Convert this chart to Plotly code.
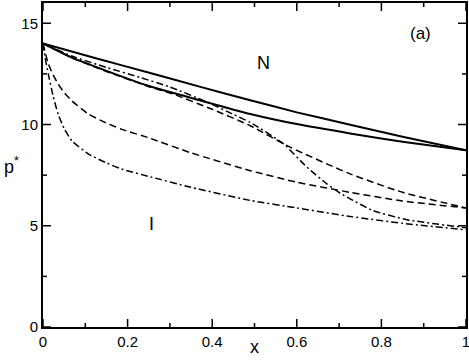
import plotly.graph_objects as go

# Upper solid curve
x_solid_up = [0, 0.125, 0.249, 0.37, 0.49, 0.6, 0.726, 0.85, 1.0]
p_solid_up = [14.0, 13.27, 12.57, 11.87, 11.2, 10.6, 9.99, 9.4, 8.73]

# Lower solid curve
x_solid_lo = [0, 0.068, 0.15, 0.249, 0.37, 0.49, 0.6, 0.726, 0.85, 1.0]
p_solid_lo = [14.0, 13.3, 12.65, 11.91, 11.2, 10.52, 10.02, 9.56, 9.15, 8.73]

# Upper dashed curve
x_dash_up = [0, 0.068, 0.15, 0.249, 0.308, 0.4, 0.49, 0.585, 0.726, 0.85, 1.0]
p_dash_up = [14.0, 13.3, 12.62, 11.88, 11.5, 10.75, 9.94, 8.87, 7.56, 6.65, 5.88]

# Lower dashed curve
x_dash_lo = [0, 0.0125, 0.024, 0.036, 0.05, 0.068, 0.107, 0.147, 0.186, 0.249, 0.35, 0.49, 0.6, 0.726, 0.85, 1.0]
p_dash_lo = [14.0, 13.0, 12.45, 12.0, 11.58, 11.17, 10.52, 10.1, 9.76, 9.35, 8.6, 7.72, 7.15, 6.65, 6.22, 5.88]

# Upper dash-dot curve
x_dd_up = [0, 0.068, 0.15, 0.23, 0.3, 0.387, 0.45, 0.49, 0.569, 0.624, 0.671, 0.703, 0.726, 0.78, 0.86, 1.0]
p_dd_up = [14.0, 13.38, 12.82, 12.32, 11.85, 11.12, 10.5, 10.1, 9.04, 7.89, 7.07, 6.6, 6.33, 5.75, 5.3, 4.9]

# Lower dash-dot curve
x_dd_lo = [0, 0.005, 0.0125, 0.024, 0.036, 0.05, 0.068, 0.107, 0.147, 0.186, 0.249, 0.35, 0.49, 0.6, 0.726, 0.85, 1.0]
p_dd_lo = [14.0, 13.3, 12.5, 11.4, 10.5, 9.8, 9.2, 8.55, 8.13, 7.8, 7.44, 6.9, 6.25, 5.88, 5.46, 5.12, 4.8]

x_ticks = [0, 0.2, 0.4, 0.6, 0.8, 1]
x_ticklabels = ["0", "0.2", "0.4", "0.6", "0.8", "1"]
x_minor_ticks = [0.1, 0.3, 0.5, 0.7, 0.9]
y_ticks = [0, 5, 10, 15]
y_ticklabels = ["0", "5", "10", "15"]
y_minor_ticks = [2.5, 7.5, 12.5]

DASH = "7px,4px"
DASHDOT = "7px,3px,2px,3px"

series = [
    (x_solid_up, p_solid_up, "solid", 2),
    (x_solid_lo, p_solid_lo, "solid", 2),
    (x_dash_up, p_dash_up, DASH, 1.5),
    (x_dash_lo, p_dash_lo, DASH, 1.5),
    (x_dd_up, p_dd_up, DASHDOT, 1.5),
    (x_dd_lo, p_dd_lo, DASHDOT, 1.5),
]

fig = go.Figure()
for xs, ps, dash, w in series:
    fig.add_trace(go.Scatter(x=xs, y=ps, mode="lines",
                             line=dict(color="black", width=w, dash=dash, shape="spline", smoothing=0.5),
                             showlegend=False, hoverinfo="skip"))

font_family = "Liberation Sans, Arial, Helvetica, sans-serif"

axis_common = dict(showline=True, linecolor="black", linewidth=2, mirror=True,
                   ticks="", showgrid=False, zeroline=False, automargin=False,
                   ticklabeloverflow="allow", layer="above traces",
                   tickfont=dict(family=font_family, size=15, color="black"))

fig.update_xaxes(range=[0, 1], tickmode="array", tickvals=x_ticks, ticktext=x_ticklabels,
                 **axis_common)
fig.update_yaxes(range=[0, 16], tickmode="array", tickvals=y_ticks, ticktext=y_ticklabels,
                 **axis_common)

# inside tick marks on all four sides, placed through the axes' own scales
tick_line = dict(color="black", width=1.5)
for vals, length in ((x_ticks, 8), (x_minor_ticks, 4)):
    for v in vals:
        for anchor, sign in ((0, 1), (1, -1)):
            fig.add_shape(type="line", xref="x", yref="paper", x0=v, x1=v,
                          ysizemode="pixel", yanchor=anchor, y0=0, y1=sign * length,
                          line=tick_line, layer="above")
for vals, length in ((y_ticks, 8), (y_minor_ticks, 4)):
    for v in vals:
        for anchor, sign in ((0, 1), (1, -1)):
            fig.add_shape(type="line", yref="y", xref="paper", y0=v, y1=v,
                          xsizemode="pixel", xanchor=anchor, x0=0, x1=sign * length,
                          line=tick_line, layer="above")

annos = [
    dict(x=0.521, y=13.05, text="N", size=18),
    dict(x=0.256, y=5.09, text="I", size=18),
    dict(x=0.892, y=14.47, text="(a)", size=17),
]
for a in annos:
    fig.add_annotation(x=a["x"], y=a["y"], xref="x", yref="y", text=a["text"], showarrow=False,
                       font=dict(family=font_family, size=a["size"], color="black"))

# axis titles as annotations
fig.add_annotation(x=-41 / 423, y=0.5, xref="paper", yref="paper", xanchor="left", yanchor="middle",
                   text="p<sup>*</sup>", showarrow=False,
                   font=dict(family=font_family, size=18, color="black"))
fig.add_annotation(x=0.5, y=-32 / 324, xref="paper", yref="paper", xanchor="center", yanchor="bottom",
                   text="x", showarrow=False,
                   font=dict(family=font_family, size=18, color="black"))

fig.update_layout(width=469, height=360, margin=dict(l=43, r=3, t=3, b=33),
                  plot_bgcolor="white", paper_bgcolor="white")

fig.write_html("out.html", config={"displayModeBar": False},
               post_script="document.body.style.margin='0px';")
